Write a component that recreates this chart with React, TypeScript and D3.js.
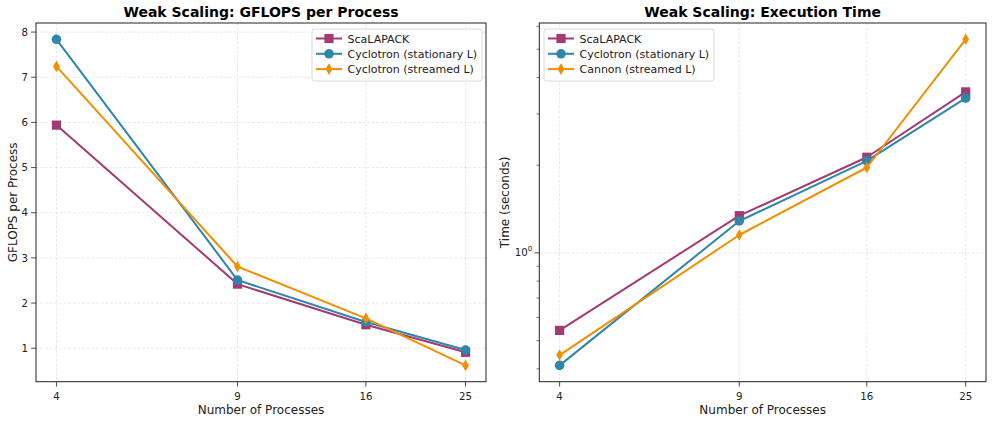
import { useEffect } from 'react';
import * as d3 from 'd3';

// ─── data ────────────────────────────────────────────────────────────────────
const processes = [4, 9, 16, 25];

const gflopsScalapack = [5.94, 2.42, 1.52, 0.91];
const gflopsStationary = [7.84, 2.51, 1.58, 0.96];
const gflopsStreamed = [7.24, 2.81, 1.66, 0.62];

const timeScalapack = [0.542, 1.342, 2.13, 3.57];
const timeStationary = [0.411, 1.287, 2.07, 3.4];
const timeCannon = [0.446, 1.152, 1.964, 5.41];

const gflopsTicks = [1, 2, 3, 4, 5, 6, 7, 8];
const timeMinorTicks = [0.4, 0.5, 0.6, 0.7, 0.8, 0.9, 2, 3, 4, 5, 6];

const COLORS = { scalapack: '#A23B72', stationary: '#2E86AB', streamed: '#F18F01' };
const FONT = '"DejaVu Sans", Verdana, sans-serif';

type MarkerKind = 'square' | 'circle' | 'thin_diamond';

interface Series {
  label: string;
  values: number[];
  color: string;
  marker: MarkerKind;
}

const W = 997;
const H = 422;

function Marker({ kind, x, y, color }: { kind: MarkerKind; x: number; y: number; color: string }) {
  if (kind === 'square') {
    return <rect x={x - 4.6} y={y - 4.6} width={9.2} height={9.2} fill={color} />;
  }
  if (kind === 'circle') {
    return <circle cx={x} cy={y} r={4.8} fill={color} />;
  }
  return (
    <path
      d={`M${x},${y - 5.8}L${x + 3.4},${y}L${x},${y + 5.8}L${x - 3.4},${y}Z`}
      fill={color}
    />
  );
}

// matplotlib-style 5% margins on a (possibly log) domain
function padded(min: number, max: number, log: boolean): [number, number] {
  if (log) {
    const a = Math.log10(min);
    const b = Math.log10(max);
    const m = (b - a) * 0.05;
    return [10 ** (a - m), 10 ** (b + m)];
  }
  const m = (max - min) * 0.05;
  return [min - m, max + m];
}

interface PanelProps {
  left: number;
  right: number;
  top: number;
  bottom: number;
  title: string;
  yLabel: string;
  yLabelX: number;
  logY: boolean;
  series: Series[];
  legendX: number;
}

function Panel({ left, right, top, bottom, title, yLabel, yLabelX, logY, series, legendX }: PanelProps) {
  const all = series.flatMap((s) => s.values);
  const xDom = padded(d3.min(processes)!, d3.max(processes)!, true);
  const yDom = padded(d3.min(all)!, d3.max(all)!, logY);

  const x = d3.scaleLog().domain(xDom).range([left, right]);
  const y = (logY ? d3.scaleLog() : d3.scaleLinear()).domain(yDom).range([bottom, top]);

  const line = d3
    .line<number>()
    .x((_, i) => x(processes[i]))
    .y((d) => y(d));

  const midX = (left + right) / 2;
  const midY = (top + bottom) / 2;
  const gridStyle = { stroke: '#b0b0b0', strokeOpacity: 0.35, strokeWidth: 0.8, strokeDasharray: '3 1.6' };

  const yMajor = logY ? [1] : gflopsTicks;
  const clipId = `clip-${left}`;

  return (
    <g fontFamily={FONT}>
      <defs>
        <clipPath id={clipId}>
          <rect x={left} y={top} width={right - left} height={bottom - top} />
        </clipPath>
      </defs>
      <rect x={left} y={top} width={right - left} height={bottom - top} fill='#fff' />

      {/* grid */}
      {processes.map((p) => (
        <line key={`gx${p}`} x1={x(p)} x2={x(p)} y1={top} y2={bottom} {...gridStyle} />
      ))}
      {yMajor.map((t) => (
        <line key={`gy${t}`} x1={left} x2={right} y1={y(t)} y2={y(t)} {...gridStyle} />
      ))}

      {/* series */}
      <g clipPath={`url(#${clipId})`}>
        {series.map((s) => (
          <g key={s.label}>
            <path d={line(s.values) ?? ''} fill='none' stroke={s.color} strokeWidth={2} strokeLinejoin='round' />
            {s.values.map((v, i) => (
              <Marker key={i} kind={s.marker} x={x(processes[i])} y={y(v)} color={s.color} />
            ))}
          </g>
        ))}
      </g>

      {/* spines */}
      <rect x={left} y={top} width={right - left} height={bottom - top} fill='none' stroke='#222' strokeWidth={1} />

      {/* x ticks */}
      {processes.map((p) => (
        <g key={`xt${p}`}>
          <line x1={x(p)} x2={x(p)} y1={bottom} y2={bottom + 4.9} stroke='#222' strokeWidth={0.8} />
          <text x={x(p)} y={bottom + 18} textAnchor='middle' fontSize={10.2} fill='#222'>
            {p}
          </text>
        </g>
      ))}

      {/* y ticks */}
      {yMajor.map((t) => (
        <g key={`yt${t}`}>
          <line x1={left - 4.9} x2={left} y1={y(t)} y2={y(t)} stroke='#222' strokeWidth={0.8} />
          {logY ? (
            <text x={left - 7} y={y(t) + 3.6} textAnchor='end' fontSize={10.2} fill='#222'>
              10
              <tspan fontSize={7} dy={-5}>
                0
              </tspan>
            </text>
          ) : (
            <text x={left - 8} y={y(t) + 3.6} textAnchor='end' fontSize={10.2} fill='#222'>
              {t}
            </text>
          )}
        </g>
      ))}
      {logY &&
        timeMinorTicks
          .filter((t) => y(t) >= top && y(t) <= bottom)
          .map((t) => (
            <line key={`ym${t}`} x1={left - 2.8} x2={left} y1={y(t)} y2={y(t)} stroke='#222' strokeWidth={0.6} />
          ))}

      {/* labels */}
      <text x={midX} y={17} textAnchor='middle' fontSize={14} fontWeight='bold' fill='#000'>
        {title}
      </text>
      <text x={midX} y={414} textAnchor='middle' fontSize={12} fill='#222'>
        Number of Processes
      </text>
      <text
        transform={`translate(${yLabelX},${midY}) rotate(-90)`}
        textAnchor='middle'
        fontSize={12}
        fill='#222'
      >
        {yLabel}
      </text>

      {/* legend */}
      <g transform={`translate(${legendX},29)`}>
        <rect x={0} y={0} width={170} height={52} rx={2.5} fill='#fff' fillOpacity={0.85} stroke='#d0d0d0' strokeWidth={0.8} />
        {series.map((s, i) => {
          const cy = 9.5 + i * 15.3;
          return (
            <g key={s.label}>
              <line x1={4} x2={30} y1={cy} y2={cy} stroke={s.color} strokeWidth={2} />
              <Marker kind={s.marker} x={17} y={cy} color={s.color} />
              <text x={35.5} y={cy + 4} fontSize={11} fill='#222'>
                {s.label}
              </text>
            </g>
          );
        })}
      </g>
    </g>
  );
}

export default function App() {
  useEffect(() => {
    document.body.style.margin = '0';
  }, []);

  const gflopsSeries: Series[] = [
    { label: 'ScaLAPACK', values: gflopsScalapack, color: COLORS.scalapack, marker: 'square' },
    { label: 'Cyclotron (stationary L)', values: gflopsStationary, color: COLORS.stationary, marker: 'circle' },
    { label: 'Cyclotron (streamed L)', values: gflopsStreamed, color: COLORS.streamed, marker: 'thin_diamond' },
  ];
  const timeSeries: Series[] = [
    { label: 'ScaLAPACK', values: timeScalapack, color: COLORS.scalapack, marker: 'square' },
    { label: 'Cyclotron (stationary L)', values: timeStationary, color: COLORS.stationary, marker: 'circle' },
    { label: 'Cannon (streamed L)', values: timeCannon, color: COLORS.streamed, marker: 'thin_diamond' },
  ];

  return (
    <svg width={W} height={H} viewBox={`0 0 ${W} ${H}`} style={{ display: 'block', background: '#fff' }}>
      <Panel
        left={36}
        right={486}
        top={23}
        bottom={381.7}
        title='Weak Scaling: GFLOPS per Process'
        yLabel='GFLOPS per Process'
        yLabelX={17}
        logY={false}
        series={gflopsSeries}
        legendX={312}
      />
      <Panel
        left={539.3}
        right={986}
        top={23}
        bottom={381.7}
        title='Weak Scaling: Execution Time'
        yLabel='Time (seconds)'
        yLabelX={509}
        logY={true}
        series={timeSeries}
        legendX={544}
      />
    </svg>
  );
}
